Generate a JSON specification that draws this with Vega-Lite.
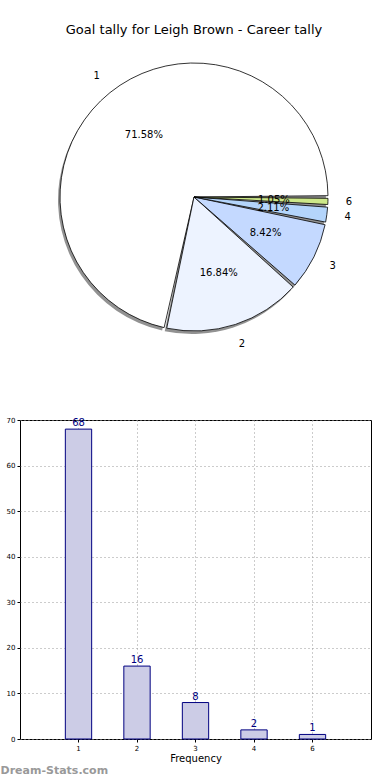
{
  "$schema": "https://vega.github.io/schema/vega-lite/v6.json",
  "padding": {"left": 0, "top": 24, "right": 4, "bottom": 0},
  "background": "white",
  "config": {"font": "DejaVu Sans", "view": {"stroke": null}},
  "datasets": {
    "goals": [
      {"goals": "1", "count": 68, "pct": "71.58%"},
      {"goals": "2", "count": 16, "pct": "16.84%"},
      {"goals": "3", "count": 8, "pct": "8.42%"},
      {"goals": "4", "count": 2, "pct": "2.11%"},
      {"goals": "6", "count": 1, "pct": "1.05%"}
    ]
  },
  "title": {"text": "Dream-Stats.com", "orient": "bottom", "anchor": "start", "color": "#999999", "fontSize": 11, "fontWeight": "bold", "offset": 1},
  "spacing": 65,
  "vconcat": [
    {
      "title": {"text": "Goal tally for Leigh Brown - Career tally", "fontSize": 13, "fontWeight": "normal", "offset": 12, "anchor": "middle"},
      "width": 348,
      "height": 296,
      "data": {"name": "goals"},
      "encoding": {
        "theta": {"field": "count", "type": "quantitative", "stack": true, "scale": {"range": [1.5708, -4.7124]}},
        "order": {"field": "count", "sort": "descending"}
      },
      "layer": [
        {"mark": {"type": "arc", "outerRadius": 134, "padAngle": 0.02, "fill": "#777777", "opacity": 0.8, "xOffset": -2, "yOffset": 3}},
        {"mark": {"type": "arc", "outerRadius": 134, "padAngle": 0.02, "stroke": "black", "strokeWidth": 0.8},
         "encoding": {"color": {"field": "goals", "type": "nominal", "scale": {"domain": ["1", "2", "3", "4", "6"], "range": ["#ffffff", "#edf3ff", "#c4d9ff", "#b4d5fb", "#cde889"]}, "legend": null}}},
        {"mark": {"type": "text", "radius": 80, "fontSize": 10, "color": "black"}, "encoding": {"text": {"field": "pct"}}},
        {"mark": {"type": "text", "radius": 155, "fontSize": 10, "color": "black"}, "encoding": {"text": {"field": "goals"}}}
      ]
    },
    {
      "width": 351,
      "height": 319,
      "data": {"name": "goals"},
      "view": {"stroke": "black", "strokeWidth": 1},
      "encoding": {
        "x": {"field": "goals", "type": "ordinal", "sort": ["1", "2", "3", "4", "6"],
          "scale": {"paddingInner": 0.55, "paddingOuter": 0.775},
          "axis": {"title": "Frequency", "labelAngle": 0, "labelFontSize": 7, "titleFontSize": 10, "titleFontWeight": "normal", "grid": true, "gridDash": [1, 3], "gridColor": "#999999", "domain": false, "tickSize": 3, "tickColor": "black", "titlePadding": 2, "labelPadding": 2}},
        "y": {"field": "count", "type": "quantitative", "scale": {"domain": [0, 70]},
          "axis": {"title": null, "values": [0, 10, 20, 30, 40, 50, 60, 70], "labelFontSize": 7, "grid": true, "gridDash": [1, 3], "gridColor": "#999999", "domain": false, "tickSize": 3, "tickColor": "black", "minExtent": 19}}
      },
      "layer": [
        {"mark": {"type": "bar", "fill": "#ccccE6", "stroke": "#000080", "strokeWidth": 1}},
        {"mark": {"type": "text", "baseline": "bottom", "dy": -1, "fontSize": 10, "color": "#000080"}, "encoding": {"text": {"field": "count", "type": "quantitative"}}}
      ]
    }
  ]
}
